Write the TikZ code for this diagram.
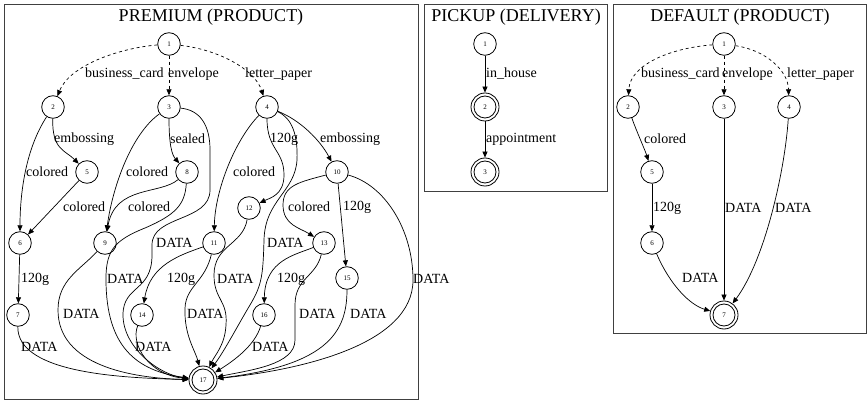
\documentclass[tikz,border=0pt]{standalone}
\usepackage{fontspec}
\setmainfont{Liberation Serif}
\usetikzlibrary{arrows.meta}
\tikzset{
 st/.style={circle, draw, line width=0.8pt, minimum size=22.6pt, inner sep=0pt, font=\fontsize{7}{7}\selectfont},
 fin/.style={st, minimum size=28pt, path picture={\draw[line width=0.8pt] (path picture bounding box.center) circle (11pt);}},
 lbl/.style={anchor=west, inner sep=0pt, font=\fontsize{14}{14}\selectfont},
 ttl/.style={inner sep=0pt, font=\fontsize{18}{18}\selectfont},
 arr/.style={line width=0.7pt, -{Triangle[length=6pt,width=5pt]}},
 opt/.style={arr, dash pattern=on 3pt off 3pt},
 box/.style={draw=black!75, line width=0.8pt}
}
\begin{document}
\begin{tikzpicture}[x=1pt,y=-1pt]
\useasboundingbox (0,0) rectangle (867,403);
% clusters
\draw[box] (4,4) rectangle (418,399);
\draw[box] (424,4) rectangle (607,191);
\draw[box] (613,4) rectangle (866.5,333);
\node[ttl] (tp) at (211,17) {PREMIUM (PRODUCT)};
\node[ttl] (tk) at (516,17) {PICKUP (DELIVERY)};
\node[ttl] (td) at (740,17) {DEFAULT (PRODUCT)};
% PREMIUM nodes
\node[st] (p1) at (169,44) {1};
\node[st] (p2) at (53,107) {2};
\node[st] (p3) at (169,107) {3};
\node[st] (p4) at (267,107) {4};
\node[st] (p5) at (87,172) {5};
\node[st] (p8) at (187,172) {8};
\node[st] (p10) at (337,172) {10};
\node[st] (p12) at (249,208) {12};
\node[st] (p6) at (20,243) {6};
\node[st] (p9) at (105,243) {9};
\node[st] (p11) at (214,243) {11};
\node[st] (p13) at (324,243) {13};
\node[st] (p15) at (347,278) {15};
\node[st] (p7) at (18,315) {7};
\node[st] (p14) at (142,315) {14};
\node[st] (p16) at (264,315) {16};
\node[fin] (p17) at (203,380) {17};
% PREMIUM edges
\draw[opt] (p1) .. controls (120,48) and (70,65) .. (p2);
\draw[opt] (p1) -- (p3);
\draw[opt] (p1) .. controls (220,50) and (255,70) .. (p4);
\draw[arr] (p2) .. controls (52,150) and (65,150) .. (p5);
\draw[arr] (p2) .. controls (25,150) and (20,195) .. (p6);
\draw[arr] (p5) -- (p6);
\draw[arr] (p6) -- (p7);
\draw[arr] (p7) .. controls (17,375) and (130,378) .. (p17);
\draw[arr] (p3) .. controls (169,145) and (172,155) .. (p8);
\draw[arr] (p3) .. controls (130,135) and (112,190) .. (p9);
\draw[arr] (p3) .. controls (200,110) and (210,125) .. (210,150) -- (210,190) .. controls (210,222) and (152,215) .. (152,245) -- (152,255) .. controls (152,292) and (123,285) .. (123,315) .. controls (123,348) and (160,375) .. (p17);
\draw[arr] (p8) .. controls (160,195) and (115,185) .. (p9);
\draw[arr] (p8) .. controls (185,205) and (175,215) .. (145,228) .. controls (115,240) and (107,250) .. (106,275) .. controls (105,340) and (130,370) .. (p17);
\draw[arr] (p9) .. controls (80,270) and (58,280) .. (58,310) .. controls (58,365) and (130,378) .. (p17);
\draw[arr] (p4) .. controls (300,120) and (320,140) .. (p10);
\draw[arr] (p4) .. controls (235,140) and (215,190) .. (p11);
\draw[arr] (p4) .. controls (267,150) and (284,150) .. (284,175) .. controls (284,195) and (270,198) .. (p12);
\draw[arr] (p4) .. controls (292,118) and (298,135) .. (297,160) .. controls (295,192) and (265,200) .. (264,240) .. controls (263,275) and (262,285) .. (250,305) .. controls (238,325) and (225,350) .. (p17);
\draw[arr] (p10) .. controls (300,182) and (283,185) .. (283,205) .. controls (283,225) and (300,228) .. (p13);
\draw[arr] (p10) -- (p15);
\draw[arr] (p10) .. controls (385,185) and (413,230) .. (413,280) .. controls (413,345) and (300,370) .. (p17);
\draw[arr] (p11) .. controls (180,255) and (150,265) .. (p14);
\draw[arr] (p11) .. controls (205,282) and (186,286) .. (185,308) .. controls (184,335) and (195,350) .. (p17);
\draw[arr] (p12) .. controls (243,245) and (214,245) .. (214,275) .. controls (214,300) and (228,300) .. (226,325) .. controls (225,345) and (215,355) .. (p17);
\draw[arr] (p13) .. controls (295,255) and (265,260) .. (p16);
\draw[arr] (p13) .. controls (316,277) and (295,278) .. (295,305) -- (295,340) .. controls (295,365) and (250,370) .. (p17);
\draw[arr] (p14) .. controls (130,345) and (150,375) .. (p17);
\draw[arr] (p15) .. controls (347,330) and (330,365) .. (p17);
\draw[arr] (p16) .. controls (255,345) and (235,360) .. (p17);
% PREMIUM labels
\node[lbl] (l1) at (85,74) {business\_card};
\node[lbl] (l2) at (168,74) {envelope};
\node[lbl] (l3) at (245,74) {letter\_paper};
\node[lbl] (l4) at (54,139) {embossing};
\node[lbl] (l5) at (170,139) {sealed};
\node[lbl] (l6) at (270,139) {120g};
\node[lbl] (l7) at (320,139) {embossing};
\node[lbl] (l8) at (26,172) {colored};
\node[lbl] (l9) at (126,172) {colored};
\node[lbl] (l10) at (233,172) {colored};
\node[lbl] (l11) at (63,207) {colored};
\node[lbl] (l12) at (128,207) {colored};
\node[lbl] (l13) at (288,207) {colored};
\node[lbl] (l14) at (343,207) {120g};
\node[lbl] (l15) at (156,243) {DATA};
\node[lbl] (l16) at (267,243) {DATA};
\node[lbl] (l17) at (21,279) {120g};
\node[lbl] (l18) at (107,279) {DATA};
\node[lbl] (l19) at (167,279) {120g};
\node[lbl] (l20) at (217,279) {DATA};
\node[lbl] (l21) at (277,279) {120g};
\node[lbl] (l22) at (413,279) {DATA};
\node[lbl] (l23) at (63,314) {DATA};
\node[lbl] (l24) at (187,314) {DATA};
\node[lbl] (l25) at (299,314) {DATA};
\node[lbl] (l26) at (350,314) {DATA};
\node[lbl] (l27) at (21,347) {DATA};
\node[lbl] (l28) at (135,347) {DATA};
\node[lbl] (l29) at (252,347) {DATA};
% PICKUP
\node[st] (k1) at (485,44) {1};
\node[fin] (k2) at (485,107) {2};
\node[fin] (k3) at (485,172) {3};
\draw[arr] (k1) -- (k2);
\draw[arr] (k2) -- (k3);
\node[lbl] (m1) at (486,74) {in\_house};
\node[lbl] (m2) at (486,139) {appointment};
% DEFAULT
\node[st] (d1) at (724,44) {1};
\node[st] (d2) at (628,107) {2};
\node[st] (d3) at (724,107) {3};
\node[st] (d4) at (789,107) {4};
\node[st] (d5) at (652,172) {5};
\node[st] (d6) at (652,243) {6};
\node[fin] (d7) at (724,315) {7};
\draw[opt] (d1) .. controls (670,48) and (630,65) .. (d2);
\draw[opt] (d1) -- (d3);
\draw[opt] (d1) .. controls (765,50) and (788,70) .. (d4);
\draw[arr] (d2) .. controls (636,130) and (645,150) .. (d5);
\draw[arr] (d5) -- (d6);
\draw[arr] (d6) .. controls (670,285) and (690,305) .. (d7);
\draw[arr] (d3) -- (d7);
\draw[arr] (d4) .. controls (785,170) and (765,260) .. (d7);
\node[lbl] (n1) at (641,74) {business\_card};
\node[lbl] (n2) at (722,74) {envelope};
\node[lbl] (n3) at (787,74) {letter\_paper};
\node[lbl] (n4) at (644,139) {colored};
\node[lbl] (n5) at (653,208) {120g};
\node[lbl] (n6) at (725,208) {DATA};
\node[lbl] (n7) at (775,208) {DATA};
\node[lbl] (n8) at (682,278) {DATA};
\end{tikzpicture}
\end{document}
